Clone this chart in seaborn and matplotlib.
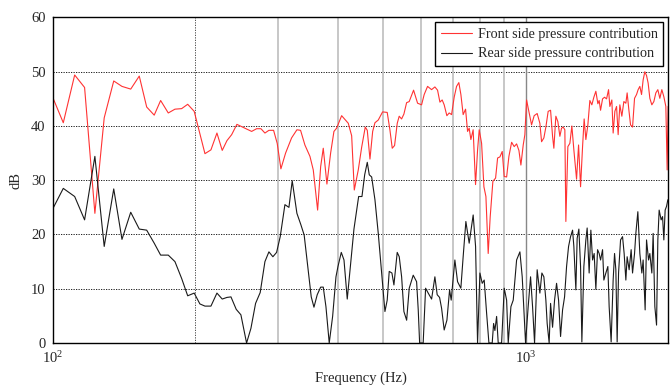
import numpy as np
import pandas as pd
import seaborn as sns
import matplotlib.pyplot as plt
from matplotlib.ticker import FixedLocator, NullFormatter

# Front side pressure contribution (Hz, dB)
front_freq = [100.0, 105.3, 111.3, 116.8, 122.8, 128.5, 134.6, 140.1, 146.2, 152.4, 158.0, 163.9, 169.1, 175.5, 181.3, 187.3, 192.9, 199.1,
              209.8, 216.0, 222.4, 228.2, 233.5, 238.9, 245.1, 254.8, 263.3, 269.8, 275.5, 280.9, 286.4, 293.0, 298.2, 303.6, 310.6, 319.8, 328.2, 334.1, 341.2,
              349.7, 355.4, 363.0, 368.4, 373.1, 379.8, 386.7, 393.0, 398.2,
              408.0, 421.4, 428.4, 433.9, 442.4, 449.8, 457.7, 462.2, 468.3, 474.5, 479.8, 487.6,
              498.0, 509.3, 516.0, 521.9, 527.9, 534.8, 539.9, 546.2, 552.4, 559.7, 566.8,
              579.0, 590.4, 602.0, 609.7, 619.8, 632.0, 642.3, 650.7, 658.2, 665.5, 672.0, 680.8, 688.6,
              696.6, 705.5, 713.7, 721.7, 728.9, 737.0, 745.7, 753.0, 758.9, 765.2, 773.7, 782.8, 790.6,
              796.9, 806.2, 815.3, 823.3, 832.5, 840.7, 851.7, 863.0, 871.5, 881.3,
              891.3, 900.0, 910.6, 920.8, 933.0, 944.8, 955.9, 966.7, 976.1, 987.2,
              995.1, 1003.4, 1014.7, 1028.1, 1041.2,
              1056.5, 1070.5, 1079.4, 1091.5, 1102.2, 1114.6, 1127.7, 1138.7, 1145.9, 1157.1, 1168.5, 1179.9, 1189.7, 1199.0, 1208.9, 1214.8,
              1226.7, 1238.7, 1250.8, 1263.0, 1279.7, 1292.3, 1304.9, 1317.7, 1327.9, 1339.0, 1352.1, 1365.3, 1378.6, 1392.1, 1405.7, 1419.5,
              1428.5, 1438.3, 1452.3, 1466.5, 1480.9, 1495.3, 1504.8, 1519.5, 1529.1, 1541.9, 1554.7, 1566.8, 1579.8, 1595.2, 1610.8, 1626.7,
              1636.9, 1650.5, 1664.2, 1680.5, 1696.9, 1713.5, 1726.9, 1741.2, 1755.7, 1769.4, 1784.1, 1798.9, 1813.0, 1828.1, 1845.9, 1864.0,
              1882.2, 1900.6, 1919.2, 1938.0, 1956.9, 1976.1, 1988.6, 1998.3]
front_db = [45.3, 40.6, 49.4, 47.1, 23.9, 41.5, 48.3, 47.3, 46.8, 49.2, 43.5, 42.0, 44.7, 42.4, 43.1, 43.2, 44.0, 42.7,
            34.9, 35.6, 38.7, 35.5, 37.3, 38.4, 40.3, 39.6, 39.0, 39.5, 39.5, 38.7, 39.2, 39.2, 36.8, 32.1, 35.0, 37.8, 39.3, 39.2, 36.5,
            34.4, 31.9, 24.5, 32.5, 35.9, 29.3, 35.0, 39.0, 39.6,
            41.9, 40.5, 38.2, 28.2, 31.9, 36.1, 39.8, 39.2, 33.9, 39.0, 40.6, 41.1,
            42.6, 42.5, 39.3, 35.9, 36.4, 40.5, 41.8, 41.3, 42.2, 44.3, 44.5,
            46.6, 44.2, 43.9, 45.8, 47.3, 46.7, 47.2, 46.6, 44.4, 44.8, 43.9, 41.9, 42.4,
            42.1, 45.3, 47.3, 48.0, 45.8, 42.1, 43.1, 39.0, 39.6, 37.5, 39.3, 29.2, 35.6,
            39.3, 36.8, 28.8, 27.0, 16.5, 23.3, 29.8, 30.4, 34.1, 34.3,
            35.3, 30.7, 30.6, 34.4, 37.0, 36.2, 36.7, 35.5, 32.8, 36.5,
            38.4, 44.8, 42.7, 40.2, 41.9,
            42.3, 40.5, 37.1, 37.8, 39.8, 42.7, 42.9, 38.1, 35.9, 41.8, 40.8, 38.1, 39.6, 39.8, 39.3, 22.4,
            36.2, 36.8, 40.0, 35.6, 30.2, 36.5, 28.8, 36.2, 41.3, 37.5, 40.2, 44.7, 43.9, 45.3, 46.4, 44.1,
            44.7, 42.9, 45.0, 45.3, 45.0, 46.7, 43.6, 44.8, 38.7, 42.7, 43.6, 38.4, 43.9, 41.8, 44.5, 44.2,
            46.1, 43.0, 40.2, 39.8, 45.1, 45.8, 46.7, 47.3, 45.8, 48.5, 50.0, 49.3, 47.9, 45.1, 43.9, 44.5,
            46.1, 46.7, 45.1, 46.7, 45.4, 43.6, 31.9, 43.6]

# Rear side pressure contribution (Hz, dB)
rear_freq = [100.0, 105.3, 111.3, 116.8, 122.8, 128.5, 134.6, 140.1, 146.2, 152.4, 158.0, 163.9, 169.1, 175.5, 181.3, 187.3, 192.9, 199.1,
             204.7, 209.8, 216.0, 222.4, 228.2, 233.5, 238.1, 244.3, 249.9, 256.9, 262.4, 268.4, 274.5, 280.9, 286.4, 292.0, 297.3, 302.6,
             309.6, 315.7, 320.8, 328.2, 334.6, 340.0,
             344.1, 351.9, 356.6, 362.3, 368.4, 373.1, 378.0, 384.1, 390.5,
             396.9, 400.8, 407.3, 412.7, 419.3, 426.3, 433.2, 437.5, 443.2, 450.4, 456.4, 462.2, 466.7, 472.2, 479.8, 487.6, 495.7,
             503.7, 509.3, 514.3, 521.1, 526.2, 534.7, 540.0, 546.3, 552.4, 559.8, 566.9,
             578.0, 587.6, 592.3, 596.3, 606.7, 613.9, 621.7, 632.1, 642.3, 649.5, 657.1, 663.6, 672.0, 681.0, 689.9, 695.3,
             707.9, 717.2, 728.8, 737.0, 746.8, 758.9, 773.8, 782.9, 790.5,
             799.6, 808.6, 816.5, 826.1, 835.4, 848.9, 854.7, 860.1, 867.3, 874.1, 888.6,
             900.0, 910.6, 917.7, 929.8, 940.3, 955.9, 971.4, 982.4, 992.0,
             998.5, 1011.3, 1023.1, 1033.1, 1043.2, 1056.5, 1070.5, 1081.0, 1091.5, 1102.2, 1109.2, 1120.0, 1127.7, 1138.7, 1149.8, 1161.1,
             1172.5, 1183.9, 1195.5, 1207.2, 1219.0, 1230.9, 1242.9, 1255.1, 1263.0, 1275.4, 1283.5, 1294.2, 1304.9, 1313.2, 1326.0, 1339.0,
             1347.5, 1360.6, 1371.9, 1383.4, 1394.2, 1405.7, 1417.4, 1428.5, 1438.3, 1452.3, 1461.5, 1475.8, 1490.2, 1499.7, 1514.3, 1529.1,
             1539.6, 1549.4, 1559.2, 1569.9, 1585.2, 1600.7, 1613.2, 1626.7, 1636.9, 1652.9, 1669.1, 1680.5, 1696.9, 1707.7, 1724.4, 1741.2,
             1758.3, 1769.4, 1786.7, 1798.9, 1816.6, 1828.1, 1845.9, 1857.7, 1873.1, 1888.7, 1900.6, 1912.7, 1931.4, 1944.6, 1956.9, 1969.4,
             1982.9, 1995.5]
rear_db = [24.7, 28.5, 27.0, 22.7, 34.4, 17.8, 28.4, 19.1, 24.1, 21.0, 20.8, 18.4, 16.2, 16.2, 15.0, 11.9, 8.7, 9.2,
           7.2, 6.8, 6.8, 9.2, 8.1, 8.4, 8.5, 6.2, 5.2, 0.0, 2.7, 7.3, 9.3, 15.0, 16.8, 15.9, 16.7, 19.6,
           25.5, 25.0, 29.9, 23.9, 21.8, 19.9,
           15.9, 8.5, 6.6, 8.9, 10.3, 10.3, 6.7, 0.0, 4.9,
           12.2, 14.1, 16.7, 15.3, 8.1, 14.7, 21.0, 23.6, 27.0, 27.0, 31.0, 33.3, 31.0, 30.6, 26.4, 20.2, 12.9,
           5.8, 7.9, 13.2, 12.9, 10.7, 16.7, 15.9, 12.2, 5.8, 4.2, 10.1,
           12.5, 11.3, 6.1, 0.0, 0.0, 10.1, 9.2, 8.1, 12.2, 8.9, 8.4, 6.4, 2.4, 4.2, 9.8, 7.9,
           15.3, 11.3, 10.1, 15.9, 22.4, 18.4, 23.6, 17.8, 0.0,
           12.9, 11.0, 11.6, 5.5, 0.0, 0.0, 3.6, 2.3, 4.9, 0.0, 0.0,
           10.1, 7.9, 0.0, 6.7, 7.9, 15.3, 16.8, 12.2, 4.9,
           0.0, 6.7, 12.2, 6.7, 0.0, 13.5, 9.2, 12.9, 12.2, 7.9, 3.6, 0.0, 7.3, 2.9, 7.9, 11.0,
           7.9, 1.2, 6.1, 8.5, 14.1, 17.8, 19.6, 20.8, 17.8, 9.8, 19.3, 21.0, 14.1, 0.2, 14.1, 19.0,
           21.2, 12.9, 20.8, 15.3, 16.5, 9.9, 17.2, 16.5, 15.3, 17.2, 11.6, 12.9, 14.1, 6.7, 0.2, 11.6,
           16.5, 13.5, 0.2, 12.9, 19.0, 19.6, 16.5, 11.6, 15.9, 13.5, 17.2, 12.9, 16.5, 20.2, 24.2, 16.5,
           12.9, 15.3, 6.1, 19.0, 15.3, 16.5, 12.9, 20.2, 6.7, 3.3, 19.0, 24.5, 22.7, 23.3, 19.0, 24.5,
           25.2, 26.4]

front = pd.DataFrame({'freq': front_freq, 'dB': front_db})
rear = pd.DataFrame({'freq': rear_freq, 'dB': rear_db})

sns.set_style("white")
plt.rcParams['font.family'] = ['Liberation Serif', 'DejaVu Serif']
plt.rcParams['mathtext.fontset'] = 'stix'

fig, ax = plt.subplots(figsize=(6.71, 3.86), dpi=100)
fig.subplots_adjust(left=0.0785, right=0.996, top=0.9547, bottom=0.1114)

ax.set_xscale('log')

# rejilla
for y in [10, 20, 30, 40, 50]:
    ax.axhline(y, color='black', lw=0.6, ls=(0, (1.5, 1.5)), zorder=0)
ax.axvline(200, color='#333333', lw=0.6, ls=(0, (1.5, 1.5)), zorder=0)
for f in [300, 400, 500, 600, 700, 800, 900]:
    ax.axvline(f, color='#bdbdbd', lw=1.2, zorder=0)
ax.axvline(1000, color='#888888', lw=1.0, zorder=0)

sns.lineplot(data=front, x='freq', y='dB', color='#ff3333', lw=0.8,
             label='Front side pressure contribution', ax=ax)
sns.lineplot(data=rear, x='freq', y='dB', color='#1a1a1a', lw=0.8,
             label='Rear side pressure contribution', ax=ax)

ax.set_xlim(100, 2000)
ax.set_ylim(0, 60)
ax.xaxis.set_major_locator(FixedLocator([100, 1000]))
ax.xaxis.set_minor_locator(FixedLocator([200, 300, 400, 500, 600, 700, 800, 900]))
ax.xaxis.set_minor_formatter(NullFormatter())
ax.set_yticks([0, 10, 20, 30, 40, 50, 60])
ax.tick_params(axis='both', which='both', length=0, labelsize=10.5, pad=5)

for s in ax.spines.values():
    s.set_color('black')
    s.set_linewidth(1.0)

ax.set_xlabel('Frequency (Hz)', fontsize=10.5, labelpad=4)
ax.set_ylabel('dB', fontsize=10.5, labelpad=6)

leg = ax.legend(loc='upper right', frameon=True, fancybox=False, edgecolor='black',
                framealpha=1, borderaxespad=0.35, handlelength=2.2, handletextpad=0.4,
                fontsize=10.2, labelspacing=0.45, borderpad=0.4)
leg.get_frame().set_linewidth(1.0)

plt.savefig('out.png', dpi=100)
